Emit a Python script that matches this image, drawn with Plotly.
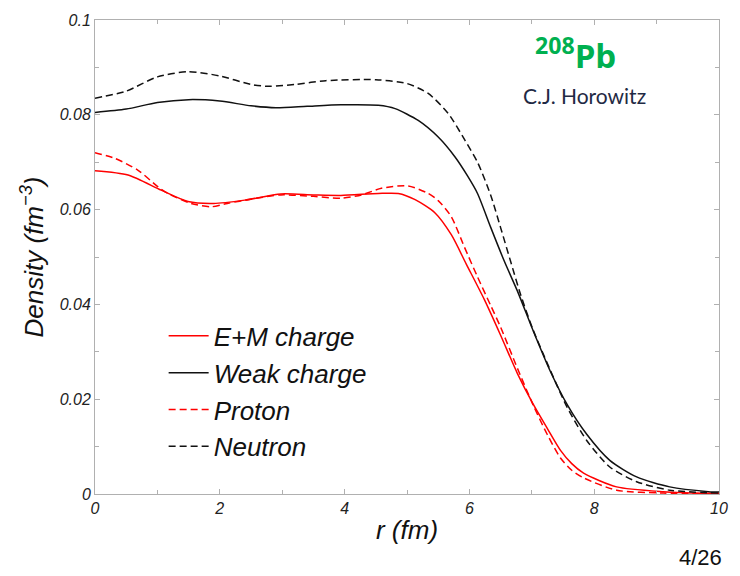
import plotly.graph_objects as go

# ---- data ----
r_neutron = [0, 0.5, 1.0, 1.5, 2.0, 2.5, 2.8, 3.2, 3.7, 4.5, 5.0, 5.34, 5.66, 5.93, 6.13, 6.34, 6.5, 6.66,
             6.82, 7.01, 7.3, 7.57, 7.88, 8.25, 8.68, 9.21, 10]
rho_neutron = [0.0835, 0.0850, 0.0880, 0.0891, 0.0882, 0.0864, 0.0860, 0.0864, 0.0872, 0.0874, 0.0866, 0.0845,
               0.0803, 0.0746, 0.0700, 0.0631, 0.0562, 0.0491, 0.0421, 0.0350, 0.0260, 0.0182, 0.0113,
               0.0057, 0.0026, 0.0008, 0.0002]

r_weak = [0, 0.5, 1.0, 1.5, 2.0, 2.5, 2.9, 3.4, 3.94, 4.54, 4.81, 5.18, 5.5, 5.77, 5.97, 6.13, 6.34, 6.56,
          6.77, 7.02, 7.3, 7.57, 7.88, 8.25, 8.68, 9.21, 9.83, 10]
rho_weak = [0.0805, 0.0812, 0.0826, 0.0832, 0.0829, 0.0819, 0.0815, 0.0818, 0.0821, 0.0820, 0.0813, 0.0788,
            0.0753, 0.0711, 0.0671, 0.0634, 0.0563, 0.0491, 0.0428, 0.0345, 0.0258, 0.0188, 0.0126,
            0.0071, 0.0036, 0.0015, 0.0005, 0.0004]

r_em = [0, 0.53, 1.06, 1.49, 1.9, 2.4, 2.98, 3.5, 3.94, 4.54, 4.86, 5.13, 5.45, 5.71, 5.95, 6.24, 6.5,
        6.77, 7.02, 7.25, 7.46, 7.64, 7.83, 8.36, 9.11, 10]
rho_em = [0.0682, 0.0673, 0.0641, 0.0617, 0.0613, 0.0620, 0.0633, 0.0631, 0.0630, 0.0634, 0.0634, 0.0621,
          0.0593, 0.0547, 0.0485, 0.0410, 0.0335, 0.0254, 0.0190, 0.0138, 0.0092, 0.0064, 0.0044,
          0.0015, 0.0005, 0.0001]

r_proton = [0, 0.32, 0.69, 1.01, 1.17, 1.54, 1.86, 2.12, 2.5, 2.98, 3.5, 3.94, 4.27, 4.59, 5.02, 5.34, 5.5,
            5.71, 5.92, 6.13, 6.34, 6.5, 6.77, 7.02, 7.25, 7.46, 7.64, 7.83, 8.36, 9.11, 10]
rho_proton = [0.0720, 0.0708, 0.0683, 0.0648, 0.0634, 0.0613, 0.0606, 0.0613, 0.0622, 0.0631, 0.0628, 0.0624,
              0.0631, 0.0645, 0.0650, 0.0634, 0.0619, 0.0585, 0.0521, 0.0458, 0.0398, 0.0352, 0.0265,
              0.0188, 0.0125, 0.0076, 0.0050, 0.0034, 0.0008, 0.0002, 0.0001]

series = [
    ("E+M charge", r_em, rho_em, "#ff0000", "solid"),
    ("Weak charge", r_weak, rho_weak, "#111111", "solid"),
    ("Proton", r_proton, rho_proton, "#ff0000", "7px,4px"),
    ("Neutron", r_neutron, rho_neutron, "#111111", "7px,4px"),
]

fig = go.Figure()
for name, xs, ys, color, dash in series:
    fig.add_trace(go.Scatter(
        x=xs, y=ys, name=name, mode="lines",
        line=dict(color=color, width=1.5, dash=dash, shape="spline", smoothing=0.7),
    ))

tickfont = dict(family="Liberation Sans", size=16, color="#222222", style="italic")
titlefont = dict(family="Liberation Sans", size=26, color="#111111", style="italic")

axis_common = dict(
    showgrid=False, zeroline=False, showline=True, linecolor="#b0b0b0", linewidth=1,
    mirror="ticks", ticks="inside", ticklen=5, tickcolor="#b0b0b0", tickfont=tickfont,
)

fig.update_layout(
    width=740, height=576,
    margin=dict(l=95, r=17, t=17, b=82),
    paper_bgcolor="white", plot_bgcolor="white",
    xaxis=dict(range=[0, 10], tick0=0, dtick=2,
               minor=dict(dtick=1, ticks="inside", ticklen=4, tickcolor="#b0b0b0"),
               title=dict(text="r (fm)", font=titlefont, standoff=4),
               **axis_common),
    yaxis=dict(range=[0, 0.1], tick0=0, dtick=0.02,
               minor=dict(dtick=0.01, ticks="inside", ticklen=4, tickcolor="#b0b0b0"),
               title=dict(text="Density (fm<sup>−3</sup>)", font=titlefont, standoff=8),
               **axis_common),
    legend=dict(x=0.11, y=0.383, xanchor="left", yanchor="top",
                bgcolor="rgba(0,0,0,0)", borderwidth=0,
                font=dict(family="Liberation Sans", size=26, color="#111111", style="italic"),
                tracegroupgap=0, itemwidth=40),
    showlegend=True,
    annotations=[
        dict(text="<sup>208</sup>Pb", x=0.770, y=0.930, xref="paper", yref="paper",
             showarrow=False, xanchor="center", yanchor="middle",
             font=dict(family="Open Sans", size=33, color="#00b050", weight="bold")),
        dict(text="C.J. Horowitz", x=0.785, y=0.841, xref="paper", yref="paper",
             showarrow=False, xanchor="center", yanchor="middle",
             font=dict(family="Lato", size=21, color="#1f2a44")),
        dict(text="4/26", x=0.971, y=-0.134, xref="paper", yref="paper",
             showarrow=False, xanchor="center", yanchor="middle",
             font=dict(family="Liberation Sans", size=22, color="#111111")),
    ],
)

fig.write_html("out.html")
